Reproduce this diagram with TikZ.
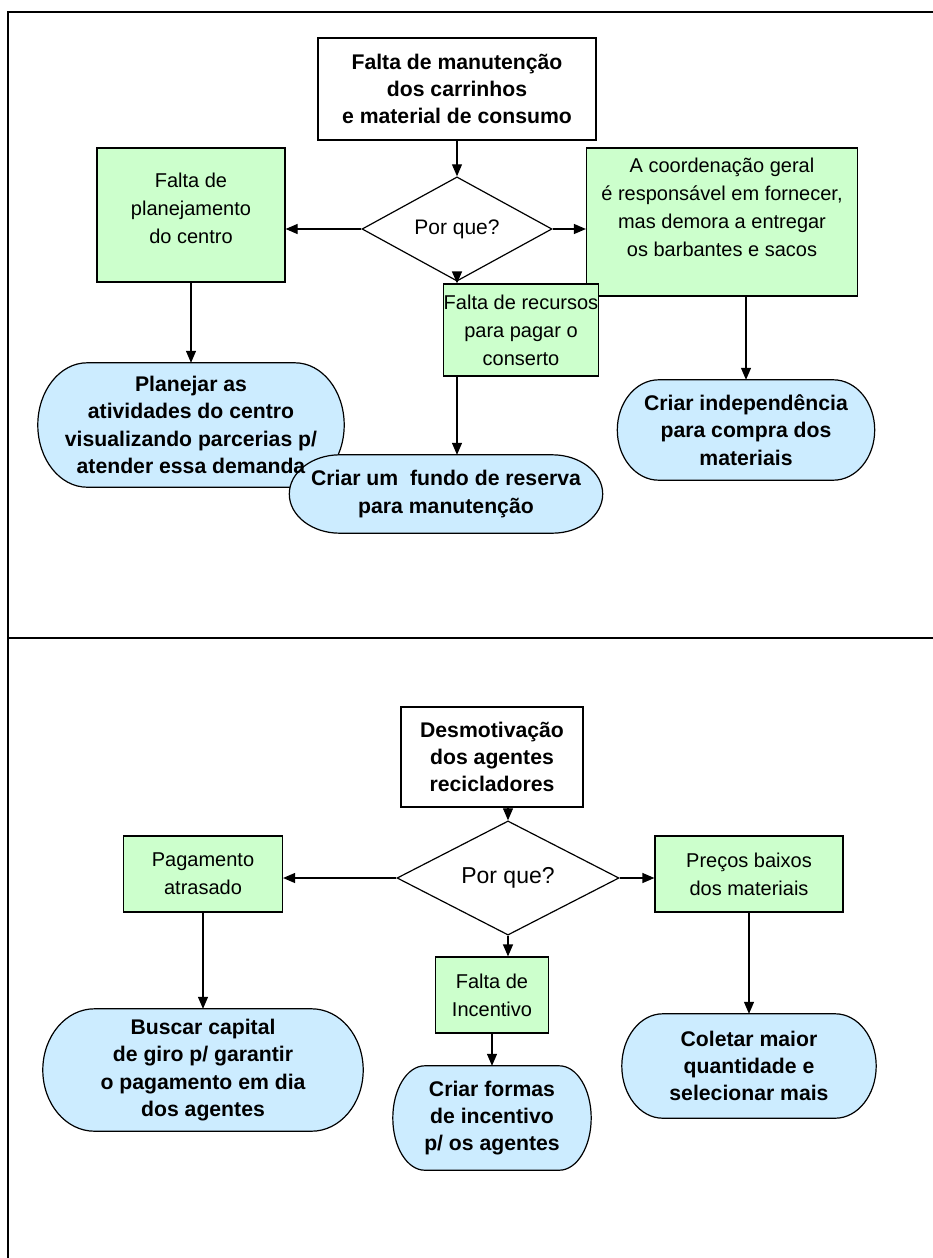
\documentclass[tikz,border=0pt]{standalone}
\usepackage{fontspec}
\setmainfont{Liberation Sans}
\usetikzlibrary{arrows.meta,shapes.geometric,calc,backgrounds}
\definecolor{causegreen}{HTML}{CCFFCC}
\definecolor{actblue}{HTML}{CCECFF}
\newcommand\ftbold{\fontsize{21.2}{27.3}\selectfont\bfseries}
\newcommand\ftplain{\fontsize{20}{28}\selectfont}
% flowchart terminator drawn behind a node: half-ellipse ends
\newcommand\terminator[1]{%
  \path[actshape] let \p1=(#1.north west), \p2=(#1.south east),
    \n1={0.161*(\x2-\x1)}, \n2={(\y1-\y2)/2} in
    (\x1+\n1,\y1) -- (\x2-\n1,\y1)
    arc[start angle=90,end angle=-90,x radius={\n1*1pt},y radius={\n2*1pt}]
    -- (\x1+\n1,\y2)
    arc[start angle=270,end angle=90,x radius={\n1*1pt},y radius={\n2*1pt}]
    -- cycle;}
\tikzset{
  frame/.style={line width=2.5pt},
  probbox/.style={draw, line width=1.2pt, fill=white, align=center, font=\ftbold, inner sep=0pt},
  whybox/.style={diamond, draw, line width=1.2pt, fill=white, inner sep=0pt,
    minimum width=#1},
  causebox/.style={draw, line width=1.2pt, fill=causegreen, align=center, font=\ftplain, inner sep=0pt},
  actnode/.style={align=center, font=\ftbold, inner sep=0pt},
  actshape/.style={draw, line width=1.2pt, fill=actblue},
  link/.style={line width=1.2pt, -{Triangle[length=12pt,width=10pt]}},
}
\begin{document}
\begin{tikzpicture}[x=1pt,y=-1pt]
\useasboundingbox (0,0) rectangle (933,1258);
% outer frame and divider
\draw[frame] (933,12) -- (8,12) -- (8,1258);
\draw[frame] (8,638) -- (933,638);

% ---------- upper chart ----------
\node[probbox, minimum width=278pt, minimum height=102pt] (p1) at (457,89)
  {Falta de manutenção\\dos carrinhos\\e material de consumo};
\node[whybox=190pt, minimum height=78pt, font=\fontsize{21}{26}\selectfont] (w1) at (457,229) {Por que?};
\node[causebox, minimum width=188pt, minimum height=134pt, text depth=14pt] (c1l) at (191,215)
  {Falta de\\planejamento\\do centro};
\node[causebox, minimum width=271pt, minimum height=148pt, text depth=30pt] (c1r) at (722,222)
  {A coordenação geral\\é responsável em fornecer,\\mas demora a entregar\\os barbantes e sacos};
\node[causebox, minimum width=152pt, minimum height=92pt] (c1c) at (521,330)
  {Falta de recursos\\para pagar o\\conserto};
\node[actnode, minimum width=306pt, minimum height=124pt] (a1l) at (191,425)
  {Planejar as\\atividades do centro\\visualizando parcerias p/\\atender essa demanda};
\node[actnode, minimum width=257pt, minimum height=100pt] (a1r) at (746,430)
  {Criar independência\\para compra dos\\materiais};
\node[actnode, minimum width=313pt, minimum height=78pt] (a1c) at (446,494)
  {Criar um\ \ fundo de reserva\\para manutenção};

% ---------- lower chart ----------
\node[probbox, minimum width=182pt, minimum height=100pt] (p2) at (492,757)
  {Desmotivação\\dos agentes\\recicladores};
\node[whybox=222pt, minimum height=76pt, font=\fontsize{23}{27}\selectfont] (w2) at (508,878) {Por que?};
\node[causebox, minimum width=159pt, minimum height=76pt] (c2l) at (203,874)
  {Pagamento\\atrasado};
\node[causebox, minimum width=188pt, minimum height=76pt] (c2r) at (749,874)
  {Preços baixos\\dos materiais};
\node[causebox, minimum width=113pt, minimum height=76pt] (c2c) at (492,995)
  {Falta de\\Incentivo};
\node[actnode, minimum width=320pt, minimum height=122pt] (a2l) at (203,1070)
  {Buscar capital\\de giro p/ garantir\\o pagamento em dia\\dos agentes};
\node[actnode, minimum width=254pt, minimum height=104pt] (a2r) at (749,1066)
  {Coletar maior\\quantidade e\\selecionar mais};
\node[actnode, minimum width=198pt, minimum height=104pt] (a2c) at (492,1118)
  {Criar formas\\de incentivo\\p/ os agentes};

\begin{scope}[on background layer]
  \terminator{a1l}\terminator{a1r}\terminator{a1c}
  \terminator{a2l}\terminator{a2r}\terminator{a2c}
\end{scope}

% connectors, upper chart
\draw[link] (p1.south) -- (w1.north);
\draw[link] (w1.west) -- (w1.west -| c1l.east);
\draw[link] (w1.east) -- (w1.east -| c1r.west);
\draw[link] (w1.south) -- (w1.south |- c1c.north);
\draw[link] (c1l.south) -- (a1l.north);
\draw[link] (c1r.south -| a1r.north) -- (a1r.north);
\draw[link] (c1c.south -| w1.south) -- (a1c.north -| w1.south);

% connectors, lower chart
\draw[link] (p2.south -| w2.north) -- (w2.north);
\draw[link] (w2.west) -- (w2.west -| c2l.east);
\draw[link] (w2.east) -- (w2.east -| c2r.west);
\draw[link] (w2.south) -- (w2.south |- c2c.north);
\draw[link] (c2l.south) -- (a2l.north);
\draw[link] (c2r.south) -- (a2r.north);
\draw[link] (c2c.south) -- (a2c.north);
\end{tikzpicture}
\end{document}
